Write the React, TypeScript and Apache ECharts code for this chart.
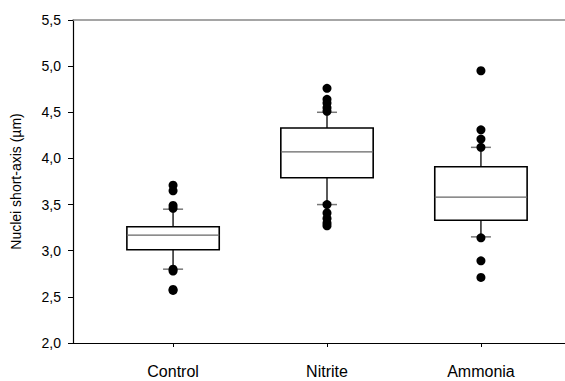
import React, { useEffect, useRef } from "react";
import * as echarts from "echarts";

const categories = ["Control", "Nitrite", "Ammonia"];
// [lowerWhisker, Q1, median, Q3, upperWhisker]
const controlBox = [2.8, 3.01, 3.17, 3.26, 3.45];
const nitriteBox = [3.5, 3.79, 4.07, 4.33, 4.5];
const ammoniaBox = [3.15, 3.33, 3.58, 3.91, 4.12];
const controlOutliers = [3.71, 3.65, 3.49, 3.46, 2.8, 2.78, 2.58, 2.57];
const nitriteOutliers = [4.76, 4.64, 4.6, 4.55, 4.51, 3.5, 3.41, 3.35, 3.3, 3.27];
const ammoniaOutliers = [4.95, 4.31, 4.21, 4.12, 3.14, 2.89, 2.71];
const yTicks = { min: 2, max: 5.5, interval: 0.5 };

const FONT = "'Liberation Sans', Arial, sans-serif";

export default function App() {
  const ref = useRef<HTMLDivElement>(null);
  useEffect(() => {
    if (!ref.current) return;
    const chart = echarts.init(ref.current, null, { renderer: "svg" });
    const boxes = [controlBox, nitriteBox, ammoniaBox];
    const outliers = [controlOutliers, nitriteOutliers, ammoniaOutliers];
    const boxData = boxes.map((b, i) => [i + 1, ...b]);
    const dotData: number[][] = [];
    outliers.forEach((arr, i) => arr.forEach((v) => dotData.push([i + 1, v])));

    const renderItem = (params: any, api: any) => {
      const x = api.value(0);
      const lo = api.coord([x, api.value(1)]);
      const q1 = api.coord([x, api.value(2)]);
      const md = api.coord([x, api.value(3)]);
      const q3 = api.coord([x, api.value(4)]);
      const hi = api.coord([x, api.value(5)]);
      const unit = api.size([1, 0])[0];
      const bw = unit * 0.6;
      const cw = unit * 0.13;
      const cx = lo[0];
      return {
        type: "group",
        children: [
          { type: "line", shape: { x1: cx, y1: q3[1], x2: cx, y2: hi[1] }, style: { stroke: "#000", lineWidth: 1.3 } },
          { type: "line", shape: { x1: cx, y1: q1[1], x2: cx, y2: lo[1] }, style: { stroke: "#000", lineWidth: 1.3 } },
          { type: "line", shape: { x1: cx - cw / 2, y1: hi[1], x2: cx + cw / 2, y2: hi[1] }, style: { stroke: "#777", lineWidth: 1.5 } },
          { type: "line", shape: { x1: cx - cw / 2, y1: lo[1], x2: cx + cw / 2, y2: lo[1] }, style: { stroke: "#777", lineWidth: 1.5 } },
          {
            type: "rect",
            shape: { x: cx - bw / 2, y: q3[1], width: bw, height: q1[1] - q3[1] },
            style: { fill: "#fff", stroke: "#000", lineWidth: 1.6 },
          },
          { type: "line", shape: { x1: cx - bw / 2, y1: md[1], x2: cx + bw / 2, y2: md[1] }, style: { stroke: "#666", lineWidth: 1.2 } },
        ],
      };
    };

    chart.setOption({
      animation: false,
      grid: { left: 73, right: -16, top: 20, bottom: 38, containLabel: false, outerBoundsMode: "none" },
      xAxis: [
        {
          type: "value",
          min: 0.35,
          max: 3.65,
          splitLine: { show: false },
          axisLine: { lineStyle: { color: "#000", width: 1.2 } },
          axisTick: { show: true, customValues: [1, 2, 3], length: 4, lineStyle: { color: "#000" } },
          axisLabel: {
            customValues: [1, 2, 3],
            formatter: (v: number) => categories[Math.round(v) - 1] ?? "",
            margin: 20,
            fontSize: 16,
            color: "#000",
            fontFamily: FONT,
          },
        },
        {
          type: "value",
          position: "top",
          min: 0.35,
          max: 3.65,
          splitLine: { show: false },
          axisLine: { show: true, lineStyle: { color: "#888", width: 1.5 } },
          axisTick: { show: false },
          axisLabel: { show: false },
        },
      ],
      yAxis: {
        type: "value",
        min: yTicks.min,
        max: yTicks.max,
        interval: yTicks.interval,
        name: "Nuclei short-axis (µm)",
        nameLocation: "middle",
        nameGap: 50,
        nameTextStyle: { fontSize: 14, color: "#000", fontFamily: FONT },
        splitLine: { show: false },
        axisLine: { show: true, lineStyle: { color: "#000", width: 1.2 } },
        axisTick: { show: true, length: 5, lineStyle: { color: "#000" } },
        axisLabel: {
          formatter: (v: number) => v.toFixed(1).replace(".", ","),
          fontSize: 14,
          margin: 12,
          color: "#000",
          fontFamily: FONT,
        },
      },
      series: [
        {
          type: "custom",
          renderItem,
          data: boxData,
          encode: { x: 0, y: [1, 2, 3, 4, 5] },
          z: 2,
        },
        {
          type: "scatter",
          data: dotData,
          symbol: "circle",
          symbolSize: 9,
          itemStyle: { color: "#000", opacity: 1 },
          z: 3,
        },
      ],
    });
    return () => chart.dispose();
  }, []);
  return (
    <div
      ref={ref}
      style={{ position: "absolute", left: 0, top: 0, width: 565, height: 381, background: "#fff" }}
    />
  );
}
